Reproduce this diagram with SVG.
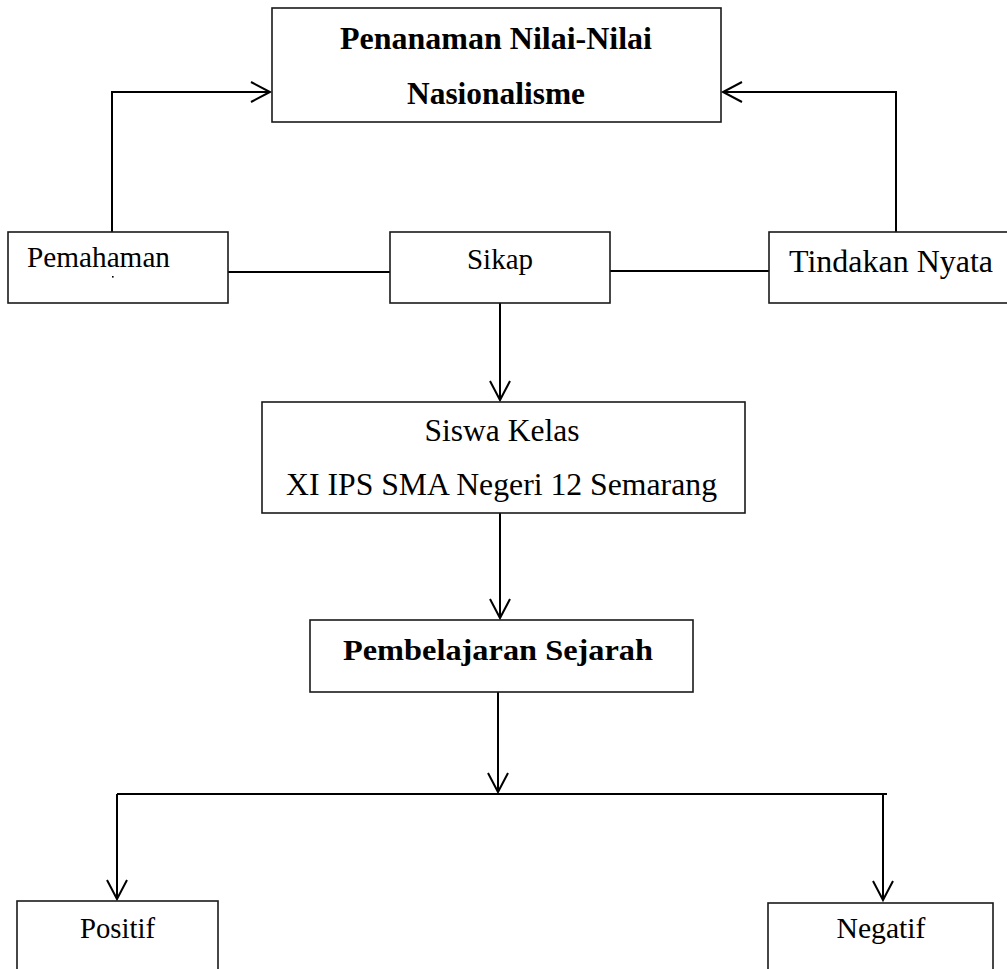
<svg xmlns="http://www.w3.org/2000/svg" width="1007" height="969" viewBox="0 0 1007 969">
<style>
.box{fill:#fff;stroke:#1a1a1a;stroke-width:1.6}
.t{font-family:'Liberation Serif','Times New Roman',Times,serif;fill:#000;text-anchor:middle}
.b{font-weight:bold}
.c{fill:none;stroke:#000;stroke-width:2}
</style>
<defs>
<marker id="arr" markerUnits="userSpaceOnUse" viewBox="-22 -12 24 24" refX="0" refY="0" markerWidth="24" markerHeight="24" orient="auto" overflow="visible">
<path d="M-19,-10 L0,0 L-19,10" fill="none" stroke="#000" stroke-width="2"/>
</marker>
</defs>
<rect width="1007" height="969" fill="#fff"/>
<g id="connectors">
<path class="c" d="M112,232 V92 H270" marker-end="url(#arr)"/>
<path class="c" d="M896,232 V92 H723" marker-end="url(#arr)"/>
<path class="c" d="M228,272 H390"/>
<path class="c" d="M610,271 H769"/>
<path class="c" d="M500,303 V400" marker-end="url(#arr)"/>
<path class="c" d="M500,513 V618" marker-end="url(#arr)"/>
<path class="c" d="M498,692 V792" marker-end="url(#arr)"/>
<path class="c" d="M117,794 H887"/>
<path class="c" d="M117,794 V899" marker-end="url(#arr)"/>
<path class="c" d="M883,794 V900" marker-end="url(#arr)"/>
</g>
<g id="node-penanaman">
<rect class="box" x="272" y="8" width="449" height="114"/>
<text class="t b" x="496" y="49" font-size="31" textLength="312" lengthAdjust="spacingAndGlyphs">Penanaman Nilai-Nilai</text>
<text class="t b" x="496" y="104" font-size="31" textLength="178" lengthAdjust="spacingAndGlyphs">Nasionalisme</text>
</g>
<g id="node-pemahaman">
<rect class="box" x="8" y="232" width="220" height="71"/>
<text class="t" x="98.5" y="267" font-size="29" textLength="143" lengthAdjust="spacingAndGlyphs">Pemahaman</text>
<rect x="112" y="276" width="1.6" height="1.6" fill="#000"/>
</g>
<g id="node-sikap">
<rect class="box" x="390" y="232" width="220" height="71"/>
<text class="t" x="500" y="269" font-size="29" textLength="66" lengthAdjust="spacingAndGlyphs">Sikap</text>
</g>
<g id="node-tindakan">
<rect class="box" x="769" y="232" width="245" height="71"/>
<text class="t" x="891" y="272" font-size="32" textLength="204" lengthAdjust="spacingAndGlyphs">Tindakan Nyata</text>
</g>
<g id="node-siswa">
<rect class="box" x="262" y="402" width="483" height="111"/>
<text class="t" x="502" y="441" font-size="31" textLength="155" lengthAdjust="spacingAndGlyphs">Siswa Kelas</text>
<text class="t" x="501.5" y="495" font-size="31" textLength="431" lengthAdjust="spacingAndGlyphs">XI IPS SMA Negeri 12 Semarang</text>
</g>
<g id="node-pembelajaran">
<rect class="box" x="310" y="620" width="383" height="72"/>
<text class="t b" x="498" y="660" font-size="30" textLength="310" lengthAdjust="spacingAndGlyphs">Pembelajaran Sejarah</text>
</g>
<g id="node-positif">
<rect class="box" x="17" y="901" width="201" height="80"/>
<text class="t" x="117.5" y="938" font-size="29" textLength="75" lengthAdjust="spacingAndGlyphs">Positif</text>
</g>
<g id="node-negatif">
<rect class="box" x="768" y="903" width="225" height="80"/>
<text class="t" x="881" y="938" font-size="29" textLength="89" lengthAdjust="spacingAndGlyphs">Negatif</text>
</g>
</svg>
